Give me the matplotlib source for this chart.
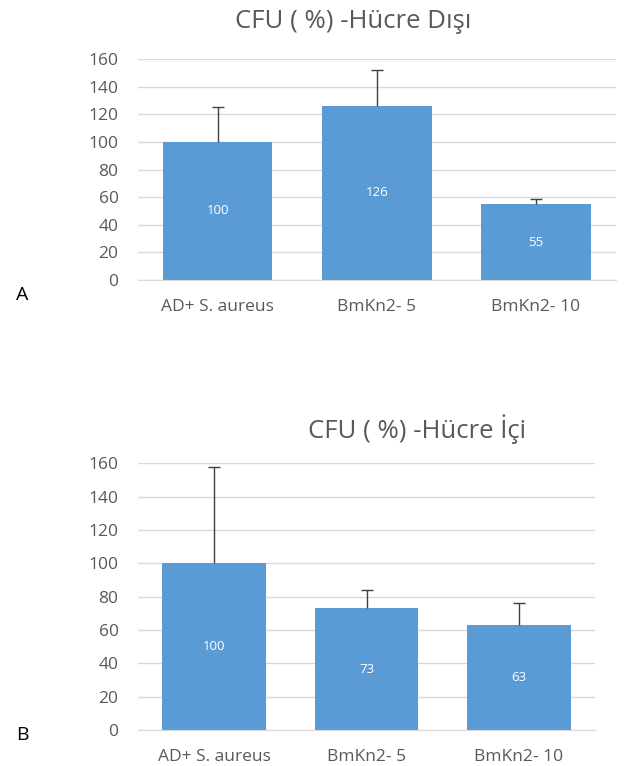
import matplotlib
matplotlib.use("Agg")
import matplotlib.pyplot as plt
import numpy as np

plt.rcParams['font.family'] = ['Open Sans', 'DejaVu Sans']

categories = ['AD+ S. aureus', 'BmKn2- 5', 'BmKn2- 10']

# panel A: extracellular
dis_values = [100, 126, 55]
dis_errors = [25, 26, 4]
dis_title = 'CFU ( %) -Hücre Dışı'

# panel B: intracellular
ici_values = [100, 73, 63]
ici_errors = [58, 11, 13]
ici_title = 'CFU ( %) -Hücre İçi'

yticks = [0, 20, 40, 60, 80, 100, 120, 140, 160]

BAR = '#5B9BD5'
GRID = '#D9D9D9'
TEXT = '#595959'

W, H = 625, 766
fig = plt.figure(figsize=(W / 100, H / 100), dpi=100)


def draw_panel(rect, values, errors, width):
    ax = fig.add_axes(rect)
    x = np.arange(len(categories))
    err = [np.zeros(len(errors)), errors]
    bars = ax.bar(x, values, width=width, color=BAR, zorder=2)
    eb = ax.errorbar(x, values, yerr=err, fmt='none', ecolor='#404040',
                     elinewidth=1, capsize=4, capthick=1, zorder=3)
    # plus-only error bars: hide the cap sitting on the bar top
    eb[1][0].set_visible(False)
    for b, v in zip(bars, values):
        ax.text(b.get_x() + b.get_width() / 2, v / 2, str(v),
                ha='center', va='center', color='white', fontsize=9.5, zorder=4)
    ax.set_xlim(-0.5, len(categories) - 0.5)
    ax.set_ylim(0, 160)
    ax.set_yticks(yticks)
    ax.set_xticks(x)
    ax.set_xticklabels(categories)
    ax.yaxis.grid(True, color=GRID, linewidth=1, zorder=0)
    ax.set_axisbelow(True)
    for s in ['top', 'right', 'left']:
        ax.spines[s].set_visible(False)
    ax.spines['bottom'].set_color(GRID)
    ax.tick_params(axis='both', length=0, labelsize=12.5, colors=TEXT)
    ax.tick_params(axis='y', pad=14)
    ax.tick_params(axis='x', pad=14)
    return ax


draw_panel([138 / W, 1 - 280 / H, 477.5 / W, 221 / H], dis_values, dis_errors, 0.69)
draw_panel([138 / W, 1 - 730 / H, 457 / W, 266.7 / H], ici_values, ici_errors, 0.68)

fig.text(353 / W, 1 - 21 / H, dis_title, ha='center', va='center', fontsize=18.5, color=TEXT)
fig.text(417 / W, 1 - 429 / H, ici_title, ha='center', va='center', fontsize=18.5, color=TEXT)

fig.text(22 / W, 1 - 295 / H, 'A', ha='center', va='center', fontsize=14, color='black')
fig.text(22 / W, 1 - 735 / H, 'B', ha='center', va='center', fontsize=14, color='black')

fig.savefig('out.png', dpi=100, facecolor='white')
